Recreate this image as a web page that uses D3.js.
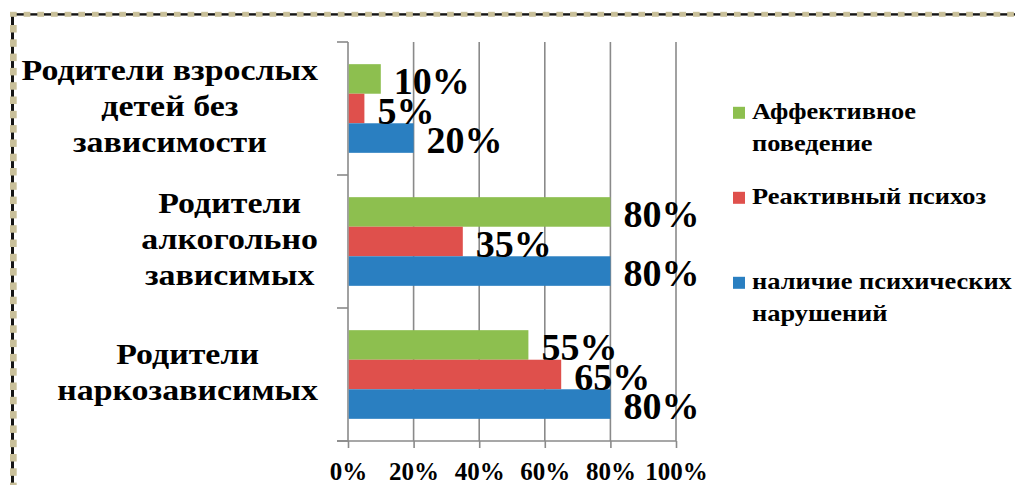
<!DOCTYPE html>
<html>
<head>
<meta charset="utf-8">
<script src="https://cdn.jsdelivr.net/npm/d3@7"></script>
<style>
  html, body { margin: 0; padding: 0; background: #fff; }
  svg { display: block; }
  text, tspan { font-family: "Liberation Serif", "Times New Roman", serif; font-weight: bold; fill: #000; }
</style>
</head>
<body>
<svg id="chart" width="1015" height="485"></svg>
<script>
// ---- data ----
const categories = [
  "Родители взрослых\nдетей без\nзависимости",
  "Родители\nалкогольно\nзависимых",
  "Родители\nнаркозависимых"
];
const seriesNames = [
  "Аффективное\nповедение",
  "Реактивный психоз",
  "наличие психических\nнарушений"
];
const affectiveValues = [10, 80, 55];
const reactiveValues = [5, 35, 65];
const disorderValues = [20, 80, 80];
const seriesColors = ["#8dbf4f", "#df504c", "#2a7fc1"];
const xTickValues = [0, 20, 40, 60, 80, 100];

const seriesValues = [affectiveValues, reactiveValues, disorderValues];

// ---- layout ----
const svg = d3.select("#chart");
const W = 1015, H = 485;
const plot = { left: 348, right: 676, top: 42, bottom: 441 };
const FONT = '"Liberation Serif", "Times New Roman", serif';
const CAT_STRETCH = 1.13;   // the reference's Cyrillic glyphs are wider
const LEG_STRETCH = 1.1;

// ---- decorative border ----
const border = svg.append("g");
border.append("rect").attr("x", 10).attr("y", 13.2).attr("width", W - 10).attr("height", 2.4).attr("fill", "#151515");
border.append("rect").attr("x", 11).attr("y", 12).attr("width", 3).attr("height", H - 12).attr("fill", "#151515");
border.selectAll("rect.th").data(d3.range(0, 75)).join("rect")
  .attr("class", "th")
  .attr("x", d => 10 + d * 13.66).attr("y", 11.8).attr("width", 6.7).attr("height", 5)
  .attr("fill", "#c9c09a");
border.selectAll("rect.tv").data(d3.range(0, 33)).join("rect")
  .attr("class", "tv")
  .attr("x", 10).attr("y", d => 25 + d * 14.3).attr("width", 6.7).attr("height", 7.5)
  .attr("fill", "#c9c09a");

// ---- scales ----
const x = d3.scaleLinear().domain([0, 100]).range([plot.left, plot.right]);
const y = d3.scaleBand().domain(categories).range([plot.top, plot.bottom])
  .paddingInner(1 / 3).paddingOuter(1 / 6);
const inner = d3.scaleBand().domain(d3.range(seriesNames.length)).range([0, y.bandwidth()]);

const gridColor = "#8a8a8a";

// gridlines
svg.append("g").selectAll("line").data(xTickValues.slice(1)).join("line")
  .attr("x1", d => x(d)).attr("x2", d => x(d))
  .attr("y1", plot.top).attr("y2", plot.bottom)
  .attr("stroke", gridColor).attr("stroke-width", 1.6);

// x axis
const xAxis = svg.append("g").attr("transform", `translate(0,${plot.bottom})`)
  .call(d3.axisBottom(x).tickValues(xTickValues).tickFormat(d => d + "%").tickSizeInner(7).tickSizeOuter(0));
xAxis.attr("font-family", FONT);
xAxis.select(".domain").remove();
xAxis.selectAll(".tick line").attr("stroke", gridColor).attr("stroke-width", 1.6);
xAxis.selectAll(".tick text")
  .attr("y", 39).attr("dy", null)
  .style("font-size", "25px").attr("fill", "#000");
xAxis.append("line").attr("x1", plot.left - 11).attr("x2", plot.right).attr("y1", 0).attr("y2", 0)
  .attr("stroke", gridColor).attr("stroke-width", 1.6);

// y axis
const boundaries = categories.map(c => y(c) - (y.step() - y.bandwidth()) / 2).concat([plot.bottom]);
const yAxisG = svg.append("g");
yAxisG.append("line").attr("x1", plot.left).attr("x2", plot.left)
  .attr("y1", plot.top).attr("y2", plot.bottom).attr("stroke", gridColor).attr("stroke-width", 1.6);
yAxisG.selectAll("line.tk").data(boundaries).join("line").attr("class", "tk")
  .attr("x1", plot.left - 11).attr("x2", plot.left).attr("y1", d => d).attr("y2", d => d)
  .attr("stroke", gridColor).attr("stroke-width", 1.6);

// category labels (lines centred on each other, block right-aligned near the axis)
const catLabels = svg.append("g").selectAll("text").data(categories).join("text")
  .attr("text-anchor", "middle").style("font-size", "30px");
catLabels.each(function (c) {
  const lines = c.split("\n");
  const t = d3.select(this);
  const cy = y(c) + y.bandwidth() / 2;
  const lh = 36;
  lines.forEach((ln, i) => {
    t.append("tspan").attr("x", 0).attr("y", cy + 8 + (i - (lines.length - 1) / 2) * lh).text(ln);
  });
  let maxW = 0;
  t.selectAll("tspan").each(function () { maxW = Math.max(maxW, this.getComputedTextLength()); });
  const cx = 318 - maxW * CAT_STRETCH / 2;
  t.attr("transform", `translate(${cx},0) scale(${CAT_STRETCH},1)`);
});

// bars
const barData = [];
categories.forEach((c, ci) => {
  seriesValues.forEach((vals, si) => barData.push({ c, si, v: vals[ci] }));
});
svg.append("g").selectAll("rect").data(barData).join("rect")
  .attr("x", x(0) + 0.8)
  .attr("y", d => y(d.c) + inner(d.si))
  .attr("width", d => x(d.v) - x(0) - 0.8)
  .attr("height", inner.bandwidth())
  .attr("fill", d => seriesColors[d.si]);

// data labels
svg.append("g").selectAll("text").data(barData).join("text")
  .attr("x", d => x(d.v) + 13)
  .attr("y", d => y(d.c) + inner(d.si) + inner.bandwidth() / 2 + 15)
  .style("font-size", "38px")
  .text(d => d.v + "%");

// legend
const legend = svg.append("g");
const legendY = d3.scalePoint().domain(d3.range(seriesNames.length)).range([119.3, 289.3]);
const li = legend.selectAll("g").data(seriesNames).join("g")
  .attr("transform", (d, i) => `translate(733,${legendY(i)})`);
li.append("rect").attr("x", 0).attr("y", -12.5).attr("width", 12).attr("height", 12)
  .attr("fill", (d, i) => seriesColors[i]);
li.append("text").style("font-size", "24px")
  .attr("transform", `translate(19,0) scale(${LEG_STRETCH},1)`)
  .each(function (d) {
    const t = d3.select(this);
    d.split("\n").forEach((ln, i) => t.append("tspan").attr("x", 0).attr("y", i * 32).text(ln));
  });
</script>
</body>
</html>
